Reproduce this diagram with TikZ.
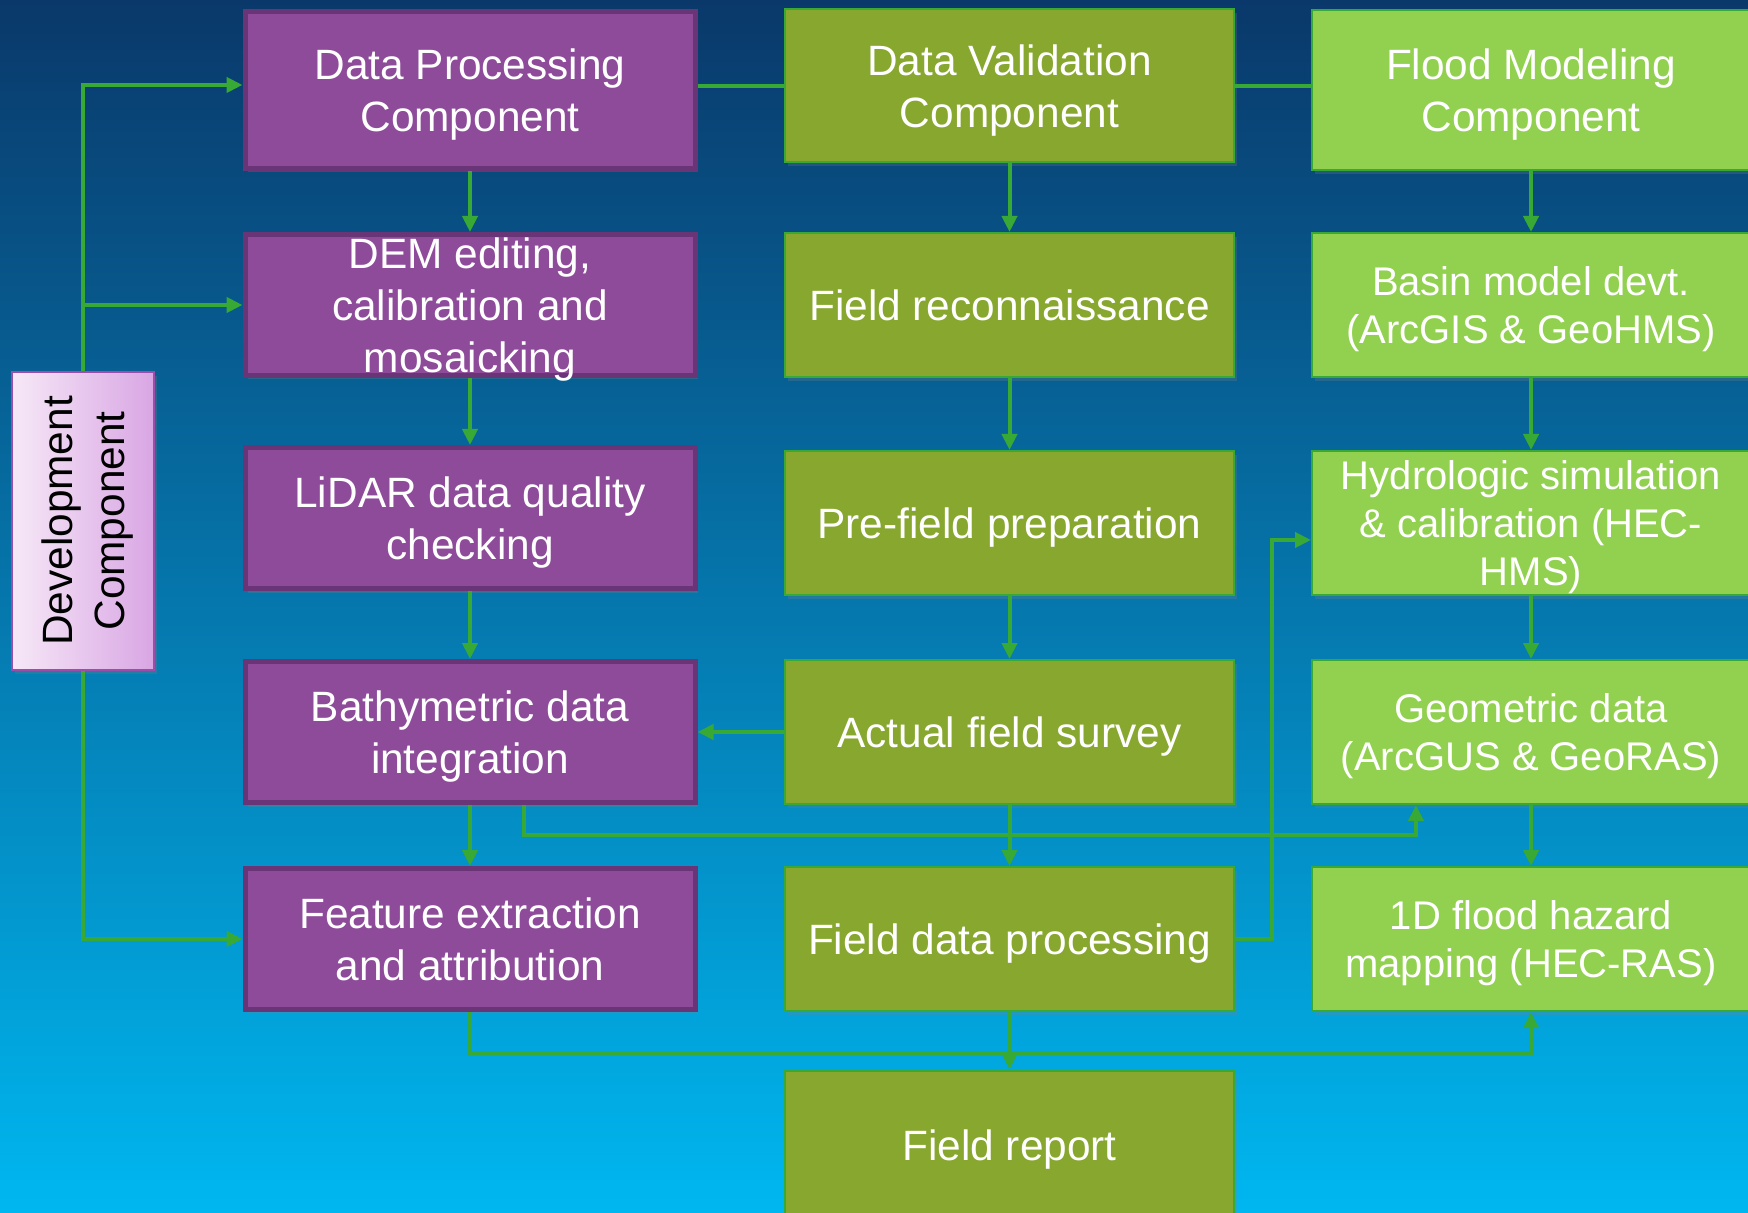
\documentclass[tikz,border=0pt]{standalone}
\usepackage{fontspec}
\setmainfont{Liberation Sans}
\usepackage{tikz}
\usepackage{xcolor}
\usetikzlibrary{positioning, arrows.meta, shadows}
\definecolor{bgtop}{HTML}{0A386A}
\definecolor{bgmid}{HTML}{0266AD}
\definecolor{bgbot}{HTML}{00B7F0}
\definecolor{purplefill}{HTML}{8D4B9A}
\definecolor{purpleline}{HTML}{6A3577}
\definecolor{olivefill}{HTML}{87A72F}
\definecolor{limefill}{HTML}{92D050}
\definecolor{flowgreen}{HTML}{38A935}
\definecolor{devleft}{HTML}{F6E8F7}
\definecolor{devright}{HTML}{D9A6E4}
\definecolor{devline}{HTML}{9C4FAA}

\begin{document}
\begin{tikzpicture}[x=0.5pt, y=-0.5pt, >={Triangle[length=8pt,width=7.5pt]},
  every node/.style={font=\fontsize{21.2}{26}\selectfont, align=center, inner sep=0pt, text depth=-1.2pt},
  shade box/.style={drop shadow={shadow xshift=1.5pt, shadow yshift=-2pt, opacity=0.25}},
  pbox/.style={rectangle, shade box, fill=purplefill, draw=purpleline, line width=2.5pt, text=white, minimum width=225pt, minimum height=70.5pt},
  obox/.style={rectangle, shade box, fill=olivefill, draw=flowgreen, line width=1pt, text=white, minimum width=224.5pt, minimum height=72pt},
  lbox/.style={rectangle, shade box, fill=limefill, draw=flowgreen, line width=1pt, text=white, minimum width=219pt, minimum height=72pt, font=\fontsize{20}{24}\selectfont},
  flow/.style={draw=flowgreen, line width=2pt}]
        \shade[top color=bgtop, middle color=bgmid, bottom color=bgbot] (0,0) rectangle (1748,1213);
        \useasboundingbox (0,0) rectangle (1748,1213);

        \node[pbox, minimum height=78.5pt] at (470,90) (DP) {Data Processing\\Component};
        \node[pbox] at (470,305) (DEM) {DEM editing,\\calibration and\\mosaicking};
        \node[pbox] at (470,518) (LQ) {LiDAR data quality\\checking};
        \node[pbox] at (470,732) (BI) {Bathymetric data\\integration};
        \node[pbox] at (470,939) (FE) {Feature extraction\\and attribution};

        \node[obox, minimum height=76.5pt] at (1009.5,86) (DV) {Data Validation\\Component};
        \node[obox] at (1009.5,305) (FR) {Field reconnaissance};
        \node[obox] at (1009.5,523) (PF) {Pre-field preparation};
        \node[obox] at (1009.5,732) (AFS) {Actual field survey};
        \node[obox] at (1009.5,939) (FDP) {Field data processing};
        \node[obox, minimum height=74.5pt] at (1009.5,1145) (REP) {Field report};

        \node[lbox, minimum height=80pt, font=\fontsize{21.2}{26}\selectfont] at (1531,90) (FM) {Flood Modeling\\Component};
        \node[lbox] at (1531,305) (BM) {Basin model devt.\\(ArcGIS \& GeoHMS)};
        \node[lbox] at (1531,523) (HS) {Hydrologic simulation\\\& calibration (HEC-\\HMS)};
        \node[lbox] at (1531,732) (GD) {Geometric data\\(ArcGUS \& GeoRAS)};
        \node[lbox] at (1531,939) (FH) {1D flood hazard\\mapping (HEC-RAS)};

        \node[rectangle, shade box, left color=devleft, right color=devright, draw=devline, line width=1pt, minimum width=71pt, minimum height=149pt] at (83,521) (DC) {};
        \node[rotate=90, text=black] at (DC) (DCT) {Development\\Component};

        \draw[flow, ->] (DC.north) |- ([yshift=2.5pt]DP.west);
        \draw[flow, ->] (DC.north) |- (DEM.west);
        \draw[flow, ->] (DC.south) |- (FE.west);
        \draw[flow] (DP.east |- DV.west) -- (DV.west);
        \draw[flow] (DV.east) -- (DV.east -| FM.west);

        \draw[flow, ->] (DP) -- (DEM);
        \draw[flow, ->] (DEM) -- (LQ);
        \draw[flow, ->] (LQ) -- (BI);
        \draw[flow, ->] (BI) -- (FE);
        \draw[flow, ->] (DV) -- (FR);
        \draw[flow, ->] (FR) -- (PF);
        \draw[flow, ->] (PF) -- (AFS);
        \draw[flow, ->] (AFS) -- (FDP);
        \draw[flow, ->] (FDP) -- (REP);
        \draw[flow, ->] (FM) -- (BM);
        \draw[flow, ->] (BM) -- (HS);
        \draw[flow, ->] (HS) -- (GD);
        \draw[flow, ->] (GD) -- (FH);
        \draw[flow, ->] (AFS) -- (BI);

        \coordinate (c1) at (524,835);
        \coordinate (c2) at (1416,835);
        \draw[flow, ->] (BI.south -| c1) -- (c1) -- (c2) -- (GD.south -| c2);
        \coordinate (c3) at (1272,540);
        \draw[flow, ->] (FDP.east) -| (c3) -- (c3 -| HS.west);
        \coordinate (c4) at (0,1053);
        \draw[flow, ->] (FE.south) -- (FE.south |- c4) -- (FH.south |- c4) -- (FH.south);
  \end{tikzpicture}
\end{document}
